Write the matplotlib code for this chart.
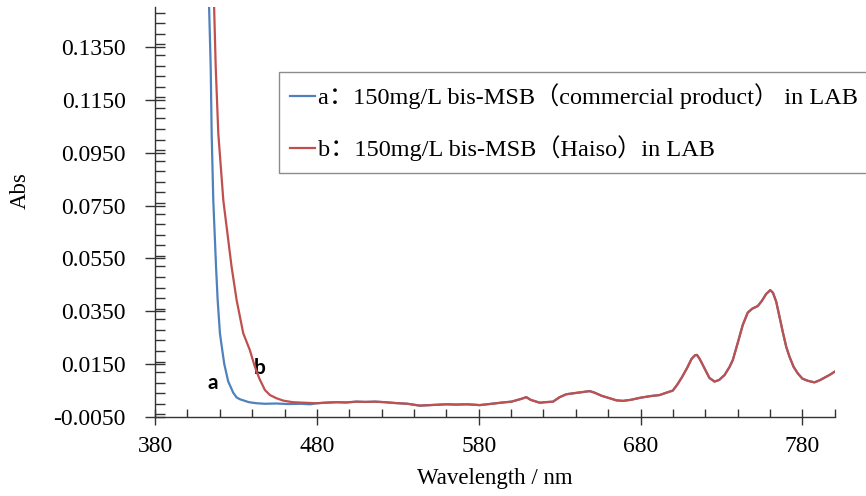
import matplotlib
matplotlib.use("Agg")
import matplotlib.pyplot as plt
import numpy as np
from matplotlib.ticker import MultipleLocator, FormatStrFormatter

# ---------------- data ----------------
blue_head_wl = [412.6, 413.3, 414.4, 415.0, 416.0, 417.7, 418.7, 420.1, 421.5, 422.8, 425.2,
                428.3, 430.4, 432.5, 434.5, 438.0, 442.8, 448.0, 455.0, 462.0, 470.0, 476.0]
blue_head_abs = [0.170, 0.1528, 0.1275, 0.1023, 0.077, 0.0519, 0.0393, 0.0267, 0.0205, 0.015,
                 0.0085, 0.0042, 0.0024, 0.0017, 0.0013, 0.0006, 0.0002, 0.0000, 0.0001,
                 -0.0001, 0.0000, -0.0002]

red_head_wl = [415.8, 416.4, 417.5, 419.1, 422.2, 427.3, 430.4, 434.5, 438.6, 441.7,
               444.5, 447.9, 451.0, 455.0, 459.2, 465.0, 472.0, 476.0]
red_head_abs = [0.170, 0.1528, 0.1275, 0.1023, 0.077, 0.0519, 0.0393, 0.0267, 0.0203, 0.014,
                0.0095, 0.0052, 0.0033, 0.0021, 0.0012, 0.0006, 0.0004, 0.0003]

tail_wl = [479.8, 485, 492, 498, 504.5, 510, 516, 522, 528, 536, 543.6, 550, 560, 566, 573,
           580.6, 588, 595, 600.2, 606, 609.4, 612, 617.7, 621, 625.9, 630, 634.1, 640, 645,
           648.5, 651.6, 656, 660.9, 665, 669.1, 674, 680, 686, 691.7, 696, 699.9, 702.5,
           705.5, 708.6, 711.5, 713.5, 714.8, 716.5, 719.5, 722.5, 725.7, 728.5, 731.9, 735,
           737, 740, 743.1, 746.2, 749, 752.4, 755, 757.5, 760.1, 761.8, 763.8, 765.8, 767.8,
           770, 772, 774.5, 777.1, 780, 783.3, 787.4, 791, 794.6, 797, 799.8]
tail_abs = [0.0002, 0.0004, 0.0006, 0.0005, 0.0008, 0.0007, 0.0008, 0.0006, 0.0003, 0.0000,
            -0.0007, -0.0005, -0.0002, -0.0003, -0.0002, -0.0005, 0.0000, 0.0005, 0.0008,
            0.0018, 0.0025, 0.0015, 0.0004, 0.0006, 0.0008, 0.0025, 0.0036, 0.0041, 0.0045,
            0.0048, 0.0042, 0.0030, 0.0021, 0.0013, 0.0011, 0.0015, 0.0023, 0.0029, 0.0033,
            0.0042, 0.0050, 0.0071, 0.0100, 0.0134, 0.0170, 0.0183, 0.0185, 0.0170, 0.0134,
            0.0098, 0.0084, 0.0090, 0.0109, 0.0140, 0.0166, 0.0230, 0.0298, 0.0345, 0.0360,
            0.0370, 0.0390, 0.0415, 0.0430, 0.0420, 0.0386, 0.0330, 0.0273, 0.0215, 0.0178,
            0.0140, 0.0115, 0.0095, 0.0087, 0.0081, 0.0090, 0.0102, 0.0110, 0.0121]

labels = ["a\uff1a150mg/L bis-MSB\uff08commercial product\uff09 in LAB",
          "b\uff1a150mg/L bis-MSB\uff08Haiso\uff09in LAB"]
colors = ["#4F81BD", "#C0504D"]
yticks = [-0.005, 0.015, 0.035, 0.055, 0.075, 0.095, 0.115, 0.135]
xticks = [380, 480, 580, 680, 780]

# ---------------- plot ----------------
plt.rcParams['font.family'] = ['Liberation Serif', 'Noto Sans CJK SC', 'DejaVu Sans']
plt.rcParams['axes.unicode_minus'] = False

fig = plt.figure(figsize=(8.66, 4.96), dpi=100)
ax = fig.add_axes([0.179, 0.1593, 0.785, 0.8257])

blue_wl = np.array(blue_head_wl + tail_wl)
blue_abs = np.array(blue_head_abs + tail_abs)
red_wl = np.array(red_head_wl + tail_wl)
red_abs = np.array(red_head_abs + tail_abs)

ax.plot(blue_wl, blue_abs, color=colors[0], lw=1.6, label=labels[0], zorder=3)
ax.plot(red_wl, red_abs, color=colors[1], lw=1.6, label=labels[1], zorder=4)

ax.set_xlim(380, 800)
ax.set_ylim(-0.005, 0.150)
ax.set_xticks(xticks)
ax.set_yticks(yticks)
ax.xaxis.set_minor_locator(MultipleLocator(20))
ax.yaxis.set_minor_locator(MultipleLocator(0.004))
ax.yaxis.set_major_formatter(FormatStrFormatter('%.4f'))

for s in ['top', 'right']:
    ax.spines[s].set_visible(False)
for s in ['left', 'bottom']:
    ax.spines[s].set_color('#333333')
    ax.spines[s].set_linewidth(1.0)

ax.tick_params(axis='y', which='major', direction='inout', length=14, width=1,
               color='#333333', labelsize=17, pad=14)
ax.tick_params(axis='y', which='minor', direction='in', length=7, width=1, color='#333333')
ax.tick_params(axis='x', which='major', direction='inout', length=12, width=1,
               color='#333333', labelsize=17, pad=8)
ax.tick_params(axis='x', which='minor', direction='in', length=6, width=1, color='#333333')

ax.set_xlabel('Wavelength / nm', fontsize=16.5)
ax.set_ylabel('Abs', fontsize=16.5)
ax.xaxis.set_label_coords(0.5, -0.149)
ax.xaxis.label.set_va('center')
ax.yaxis.set_label_coords(-0.198, 0.554)
ax.yaxis.label.set_va('center')

ax.text(415.8, 0.0079, 'a', family='Lato', fontweight='bold', fontsize=15,
        ha='center', va='center')
ax.text(444.8, 0.0135, 'b', family='Lato', fontweight='bold', fontsize=15,
        ha='center', va='center')

leg = ax.legend(loc='upper left', bbox_to_anchor=(0.3222, 0.6512, 0.72, 0.2036),
                bbox_transform=fig.transFigure, mode='expand', borderaxespad=0,
                frameon=True, fancybox=False, framealpha=1,
                edgecolor='#8c8c8c', handlelength=1.0, handletextpad=0.12,
                labelspacing=1.08, borderpad=0.47,
                prop={'family': ['Liberation Serif', 'Noto Sans CJK SC'], 'size': 17.5})
leg.get_frame().set_linewidth(1.0)

fig.savefig('out.png', dpi=100)
